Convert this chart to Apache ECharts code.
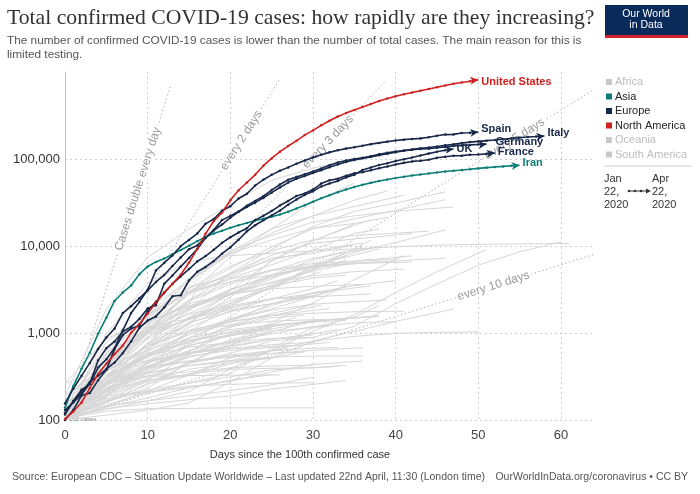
<!DOCTYPE html>
<html>
<head>
<meta charset="utf-8">
<script src="https://cdn.jsdelivr.net/npm/echarts@6/dist/echarts.min.js"></script>
<style>
  html, body { margin: 0; padding: 0; background: #fff; }
  #chart { width: 700px; height: 494px; }
</style>
</head>
<body>
<div id="chart"></div>
<script>
// x axis ticks (days since the 100th confirmed case) and y axis ticks (log)
const xTicks = [0, 10, 20, 30, 40, 50, 60]
const yTicks = [100, 1000, 10000, 100000]

// highlighted countries: cumulative cases, one value per day from day 0
const unitedStates = [103,125,159,233,338,445,572,717,1010,1267,1678,2247,2943,3680,4663,6411,9259,13789,19383,24207,33566,43734,53740,65778,83836,101657,121465,140909,161831,188172,213242,243622,275367,308650,336802,366317,397121,428654,462780,496535,526396,555313,580619,607670,636350,667801,699706,732197,758809,784326,811865]
const spain = [120,165,222,259,400,500,673,1073,1695,2277,3146,5232,6391,7798,9942,11748,13910,17963,20410,25374,28603,35136,39885,49515,57786,65719,73235,80110,87956,95923,104118,112065,119199,126168,131646,136675,141942,148220,153222,158273,163027,166831,170099,172541,177644,184948,190839,191726,198674,200210,204178]
const italy = [155,229,322,453,655,888,1128,1694,2036,2502,3089,3858,4636,5883,7375,9172,10149,12462,15113,17660,21157,24747,27980,31506,35713,41035,47021,53578,59138,63927,69176,74386,80589,86498,92472,97689,101739,105792,110574,115242,119827,124632,128948,132547,135586,139422,143626,147577,152271,156363,159516,162488,165155,168941,172434,175925,178972,181228,183957]
const germany = [130,159,196,262,482,670,799,1040,1176,1457,1908,2078,3675,4585,5795,7272,9257,12327,15320,19848,22213,24873,29056,32986,37323,43938,50871,57695,62095,66885,71808,77872,84794,91159,96092,100123,103374,107663,113296,118181,122171,124908,127854,130072,131359,134753,137698,141397,143342,145184,147065,148291]
const france = [100,130,191,204,285,377,653,949,1126,1209,1784,2281,2876,3661,4469,5423,6633,7652,9043,10871,12612,14282,16018,19856,22304,25233,29155,32964,37575,40174,44550,52128,56989,59105,64338,68605,70478,74390,78167,82048,86334,90276,93790,95403,98076,103573,106206,108847,109252,111821,112606,114657,117324]
const unitedKingdom = [116,164,207,274,322,384,459,590,801,1143,1391,1551,1960,2642,2716,4014,5067,5745,6726,8164,9640,11812,14745,17312,19780,22453,25481,29865,34173,38689,42477,48436,52279,55949,61474,65872,74605,79874,85206,89570,94845,99483,104145,109769,115314,121172,125856,130172]
const iran = [139,245,388,593,978,1501,2336,2922,3513,4747,5823,6566,7161,8042,9000,10075,11364,12729,13938,14991,16169,17361,18407,19644,20610,21638,23049,24811,27017,29406,32332,35408,38309,41495,44605,47593,50468,53183,55743,58226,60500,62589,64586,66220,68192,70029,71686,73303,74877,76389,77995,79494,80868,82211,83505,84802]

// other countries (grey), [day, cases] pairs
const greyEurope = [
  [[0,109],[5,314],[10,886],[15,1795],[20,4937],[25,9134],[30,16770],[35,24983],[40,31119],[46,41889]],
  [[0,128],[5,503],[10,1413],[15,3003],[20,5580],[25,9762],[30,15821],[35,20549],[40,25587],[46,34134]],
  [[0,114],[5,491],[10,1359],[15,4075],[20,8795],[25,13213],[30,18827],[35,22242],[40,25107],[47,28063]],
  [[0,112],[5,448],[10,1600],[15,4268],[20,8251],[25,11730],[30,15987],[35,18091],[39,21379]],
  [[0,104],[5,504],[10,1332],[15,3244],[20,5888],[25,8813],[30,11781],[35,13244],[40,14041],[44,14795]],
  [[0,101],[5,500],[10,1040],[15,1423],[20,2046],[25,3447],[30,5568],[35,8419],[40,10948],[46,15322]],
  [[0,108],[5,598],[10,1090],[15,1877],[20,3084],[25,4665],[30,5865],[35,6314],[40,6740],[46,7241]],
  [[0,129],[5,557],[10,1564],[15,2910],[20,4273],[25,6074],[30,8928],[35,13980],[38,15652]],
  [[0,114],[5,438],[10,1264],[15,2777],[20,7497],[25,15770],[30,32008],[35,52763]],
  [[0,264],[5,864],[10,1337],[15,2046],[20,2860],[25,4369],[30,5819],[35,6691],[42,7711]],
  [[0,123],[5,308],[10,762],[15,1952],[20,3183],[25,4417],[30,5990],[38,9242]],
  [[0,104],[5,425],[10,1051],[15,2311],[20,3627],[25,5205],[30,7202],[38,9856]],
  [[0,116],[5,434],[10,1120],[15,2395],[20,3858],[25,5312],[30,6303],[40,7032]],
  [[0,103],[5,249],[10,659],[15,1476],[20,2200],[25,3630],[30,5318],[34,6890]],
  [[0,140],[5,670],[10,1333],[15,2178],[20,2804],[25,3223],[30,3444],[36,3618]],
  [[0,109],[5,272],[10,450],[15,880],[20,1352],[25,2176],[30,2905],[35,3489],[40,4014]],
  [[0,190],[5,418],[10,624],[15,966],[20,1415],[25,1832],[30,2145],[39,2401]],
  [[0,103],[5,250],[10,568],[15,963],[20,1364],[25,1586],[30,1689],[35,1754],[41,1785]],
  [[0,141],[5,275],[10,414],[15,632],[20,802],[25,977],[30,1188],[35,1304],[40,1353]],
  [[0,105],[5,315],[10,713],[15,1079],[20,1343],[25,1600],[32,1908]],
  [[0,103],[5,226],[10,447],[15,744],[20,1190],[25,1579],[31,2098]],
  [[0,115],[5,258],[10,369],[15,715],[20,961],[25,1185],[30,1373],[38,1552]],
  [[0,113],[5,418],[10,1072],[15,1892],[20,2777],[25,4161],[29,6125]],
  [[0,152],[5,351],[10,1066],[15,2919],[20,4779],[24,7281]],
  [[0,109],[5,298],[10,752],[15,1289],[20,1934],[25,2472],[30,2614]],
  [[0,126],[5,310],[10,579],[15,781],[20,1037],[25,1214],[31,1368]],
  [[0,127],[5,264],[10,422],[15,593],[20,713],[25,846],[30,975],[33,1097]],
  [[0,105],[5,299],[10,581],[15,880],[20,1091],[25,1239],[32,1398]],
  [[0,105],[5,216],[10,400],[15,581],[20,715],[25,1049],[32,1199]],
  [[0,111],[5,221],[10,376],[15,542],[20,630],[25,682],[32,778]],
  [[0,104],[5,186],[10,277],[15,383],[20,446],[25,518],[29,609]],
  [[0,116],[5,230],[10,356],[15,526],[20,662],[25,735],[30,784]],
  [[0,113],[5,334],[10,466],[15,583],[20,659],[25,704],[28,717]],
  [[0,101],[5,144],[10,208],[15,236],[20,279],[25,356],[30,435],[36,476]]
]
const greyAsia = [
  [[0,191],[5,1872],[10,7402],[15,15679],[20,30217],[25,56956],[30,78546],[34,95591]],
  [[0,105],[5,164],[10,254],[15,455],[20,581],[25,814],[30,889],[35,1193],[40,2178],[45,3654],[50,6005],[55,8582],[60,11135]],
  [[0,104],[5,977],[10,3736],[15,6593],[20,7755],[25,8236],[30,8799],[35,9241],[40,9786],[45,10237],[50,10450],[55,10591],[61,10683]],
  [[0,109],[5,250],[10,705],[15,2369],[20,4695],[25,7851],[30,10743],[35,12046],[42,13942]],
  [[0,113],[5,244],[10,657],[15,1251],[20,3082],[25,6725],[30,11487],[35,17265],[37,20080]],
  [[0,103],[5,274],[10,767],[15,1453],[20,2179],[25,3287],[30,5369],[35,9362],[37,11631]],
  [[0,136],[5,495],[10,1063],[15,1865],[20,3157],[25,4601],[30,5988],[36,9749]],
  [[0,106],[10,166],[15,212],[20,385],[25,631],[30,1049],[35,1623],[40,2918],[45,5050],[51,9125]],
  [[0,129],[5,428],[10,1030],[15,2031],[20,2908],[25,3793],[30,4530],[35,5072],[41,5425]],
  [[0,111],[5,380],[10,1075],[15,3018],[20,3870],[25,4648],[30,5660],[38,6599]],
  [[0,117],[5,514],[10,1155],[15,1986],[20,2738],[25,3842],[30,5136],[37,7135]],
  [[0,262],[5,401],[10,481],[15,590],[20,781],[25,1325],[30,2210],[35,4103],[41,7764]],
  [[0,113],[5,198],[10,468],[15,1024],[20,2076],[25,3360],[30,5825],[34,7755]],
  [[0,114],[5,411],[10,1045],[15,1651],[20,2067],[25,2473],[30,2613],[37,2811]],
  [[0,109],[5,189],[10,214],[15,332],[20,476],[25,630],[30,811],[35,1040],[40,1361],[47,1881]],
  [[0,104],[5,176],[10,208],[15,266],[20,342],[25,665],[30,1154],[35,1524],[38,2080]],
  [[0,109],[5,248],[10,412],[15,479],[20,527],[25,582],[30,632],[36,677]],
  [[0,110],[5,164],[10,233],[15,458],[20,772],[25,1031],[30,1378],[38,1574]],
  [[0,113],[5,148],[10,212],[15,245],[20,257],[25,265],[30,268]],
  [[0,111],[5,302],[10,531],[15,781],[20,1232],[25,1676],[30,2135]],
  [[0,104],[5,181],[10,457],[15,604],[20,1165],[25,1490],[29,1604]],
  [[0,115],[5,265],[10,532],[15,833],[20,937],[25,1111],[30,1339],[34,1401]],
  [[0,122],[5,209],[10,400],[15,717],[20,926],[25,1197],[31,1436]],
  [[0,102],[5,146],[10,166],[15,189],[20,218],[25,254],[30,310]],
  [[0,104],[5,126],[10,135],[15,136],[20,138],[25,138],[30,138]],
  [[0,109],[5,210],[10,298],[15,457],[20,727],[25,1266],[28,1508]],
  [[0,123],[5,424],[10,1231],[15,2144],[16,3382]],
  [[0,106],[5,273],[10,484],[15,714],[20,933],[25,1092]],
  [[0,112],[5,259],[10,323],[15,358],[20,397],[25,417],[30,428]],
  [[0,100],[5,169],[10,283],[15,339],[20,382],[25,393],[30,398],[34,425]],
  [[0,100],[10,130],[15,157],[20,273],[25,517],[30,802],[35,915],[40,989],[45,1017],[50,1029]]
]
const greyAmericas = [
  [[0,151],[5,372],[10,1924],[15,3904],[20,8044],[25,14034],[30,22169],[35,33682],[39,43079]],
  [[0,108],[5,424],[10,1470],[15,4018],[20,8527],[25,15756],[30,22148],[35,28364],[41,38422]],
  [[0,117],[5,363],[10,635],[15,1323],[20,2561],[25,6848],[30,11475],[35,17837]],
  [[0,156],[5,632],[10,1610],[15,3031],[20,4815],[25,6927],[30,8807],[36,10832]],
  [[0,111],[5,789],[10,1627],[15,3368],[20,4450],[25,7257],[30,8225],[35,10398]],
  [[0,118],[5,367],[10,848],[15,1510],[20,2785],[25,4661],[30,6875],[34,8772]],
  [[0,112],[5,392],[10,901],[15,1488],[20,2349],[25,3286],[31,5044]],
  [[0,109],[5,443],[10,989],[15,1673],[20,2752],[25,3472],[30,4273],[34,4658]],
  [[0,102],[5,306],[10,608],[15,1161],[20,1780],[25,2473],[30,3233],[33,3977]],
  [[0,128],[5,387],[10,966],[15,1451],[20,1975],[25,2443],[32,3031]],
  [[0,119],[5,233],[10,396],[15,620],[20,986],[25,1137]],
  [[0,113],[5,263],[10,396],[15,467],[20,558],[25,623],[30,669],[33,681]],
  [[0,110],[5,274],[10,350],[15,424],[20,483],[25,528],[30,543],[36,543]],
  [[0,107],[5,157],[10,264],[15,330],[20,520],[24,609]],
  [[0,110],[5,222],[10,343],[15,419],[20,472],[25,510]],
  [[0,107],[5,135],[10,153],[15,171],[20,189],[25,227],[30,256],[34,285]]
]
const greyOther = [
  [[0,107],[5,298],[10,1071],[15,2799],[20,4163],[25,5224],[30,5908],[35,6289],[42,6547]],
  [[0,102],[5,368],[10,708],[15,1039],[20,1239],[25,1366],[30,1422],[34,1445]],
  [[0,116],[5,402],[10,1187],[15,1462],[20,1845],[25,2173],[30,2605],[34,3465]],
  [[0,110],[5,285],[10,576],[15,865],[20,1450],[25,2065],[30,2844],[37,3490]],
  [[0,139],[5,367],[10,716],[15,1320],[20,1761],[25,2160],[31,2811]],
  [[0,115],[5,275],[10,556],[15,1021],[20,1448],[25,1888],[33,3209]],
  [[0,113],[5,306],[10,555],[15,820],[20,1017],[25,1163]],
  [[0,137],[5,195],[10,287],[15,566],[20,834],[25,1042]],
  [[0,114],[5,312],[10,553],[15,685],[20,780],[25,866],[30,884]],
  [[0,101],[5,194],[10,349],[15,574],[20,688],[25,847],[30,952]],
  [[0,111],[5,210],[10,288],[15,323],[20,442],[25,627],[27,665]],
  [[0,114],[5,222],[10,318],[15,448],[20,546],[25,581],[29,609]],
  [[0,102],[5,227],[10,318],[15,324],[20,328],[26,329]],
  [[0,105],[5,162],[10,222],[15,265],[20,314],[25,377],[33,412]],
  [[0,109],[10,180],[15,234],[20,287],[25,332]]
]

// doubling-time guide lines: all start at [0, 100]
const guideNames = ['Cases double every day', 'every 2 days', 'every 3 days', 'every 5 days', 'every 10 days']
const guideEnds = [[12.8, 710000], [26, 830000], [38.8, 790000], [64, 630000], [64, 8000]]

const legendNames = ['Africa', 'Asia', 'Europe', 'North America', 'Oceania', 'South America']

const RED = '#cf1f1f'
const NAVY = '#18284a'
const TEAL = '#0b7e76'
const GREY = '#d6d6d6'
const legendColors = ['#c8c8c8', TEAL, NAVY, RED, '#c8c8c8', '#c8c8c8']
const legendText = ['#bdbdbd', '#222', '#222', '#222', '#bdbdbd', '#bdbdbd']

const chart = echarts.init(document.getElementById('chart'))

function highlighted(name, values, color, offset) {
  const last = values.length - 1
  return {
    name: name,
    type: 'line',
    z: 4,
    data: values.map((v, d) => d === last
      ? { value: [d, v], symbol: 'arrow', symbolSize: [6, 8], symbolRotate: -84 }
      : [d, v]),
    symbol: 'circle',
    symbolSize: 2.5,
    showAllSymbol: true,
    lineStyle: { color: color, width: 1.6 },
    itemStyle: { color: color },
    endLabel: {
      show: true,
      formatter: name,
      color: color,
      fontFamily: 'Liberation Sans',
      fontWeight: 'bold',
      fontSize: 11,
      distance: 3,
      offset: offset
    }
  }
}

const greySeries = [].concat(greyEurope, greyAsia, greyAmericas, greyOther).map(pts => ({
  type: 'line',
  z: 2,
  data: pts,
  showSymbol: false,
  silent: true,
  lineStyle: { color: GREY, width: 1 }
}))

const guideSeries = guideEnds.map(end => ({
  type: 'line',
  z: 1,
  data: [[0, 100], end],
  showSymbol: false,
  silent: true,
  lineStyle: { color: '#b0b0b0', width: 1, type: [1.5, 2.5] }
}))

const option = {
  animation: false,
  grid: { left: 65, top: 72, width: 529, height: 348 },
  xAxis: {
    type: 'value',
    min: xTicks[0],
    max: 64,
    interval: 10,
    axisLine: { show: false },
    axisTick: { show: false },
    axisLabel: {
      fontSize: 13, color: '#444', fontFamily: 'Liberation Sans', margin: 9,
      showMaxLabel: false,
      formatter: v => xTicks.includes(v) ? String(v) : ''
    },
    splitLine: {
      show: true, showMinLine: false, showMaxLine: false,
      lineStyle: { color: '#cfcfcf', type: [2, 3] }
    }
  },
  yAxis: {
    type: 'log',
    logBase: 10,
    min: yTicks[0],
    max: 1000000,
    axisLine: { show: true, lineStyle: { color: '#c4c4c4' } },
    axisTick: { show: false },
    axisLabel: {
      fontSize: 13, color: '#333', fontFamily: 'Liberation Sans', margin: 5,
      showMaxLabel: false,
      formatter: v => yTicks.includes(v) ? v.toLocaleString('en-US') : ''
    },
    splitLine: {
      show: true, showMaxLine: false,
      lineStyle: { color: '#cfcfcf', type: [2, 3] }
    }
  },
  series: [].concat(guideSeries, greySeries, [
    highlighted('Iran', iran, TEAL, [0, -2]),
    highlighted('France', france, NAVY, [0, -1]),
    highlighted('UK', unitedKingdom, NAVY, [0, 0]),
    highlighted('Germany', germany, NAVY, [6, -2]),
    highlighted('Italy', italy, NAVY, [0, -3]),
    highlighted('Spain', spain, NAVY, [0, -3]),
    highlighted('United States', unitedStates, RED, [0, 2])
  ])
}

chart.setOption(option)

// texts, legend and guide labels
const graphics = []
graphics.push({
  type: 'text', left: 7, top: 7,
  style: { text: 'Total confirmed COVID-19 cases: how rapidly are they increasing?', fontFamily: 'Liberation Serif', fontSize: 21.7, fill: '#333' }
})
graphics.push({
  type: 'text', left: 7, top: 34,
  style: { text: 'The number of confirmed COVID-19 cases is lower than the number of total cases. The main reason for this is\nlimited testing.', fontFamily: 'Liberation Sans', fontSize: 11.8, lineHeight: 14, fill: '#555' }
})
// logo
graphics.push({ type: 'rect', shape: { x: 605, y: 5, width: 83, height: 33 }, style: { fill: '#0a2a5a' } })
graphics.push({ type: 'rect', shape: { x: 605, y: 35, width: 83, height: 3 }, style: { fill: '#d4202a' } })
graphics.push({
  type: 'text', x: 646, y: 20,
  style: { text: 'Our World\nin Data', fontFamily: 'Liberation Sans', fontSize: 10.5, lineHeight: 11, fill: '#fff', align: 'center', verticalAlign: 'middle' }
})
// legend
legendNames.forEach((name, i) => {
  const y = 82 + i * 14.5
  graphics.push({ type: 'rect', shape: { x: 606, y: y - 3, width: 6, height: 6 }, style: { fill: legendColors[i] } })
  graphics.push({
    type: 'text', x: 615, y: y,
    style: { text: name, fontFamily: 'Liberation Sans', fontSize: 11, fill: legendText[i], verticalAlign: 'middle' }
  })
})
graphics.push({ type: 'line', shape: { x1: 604, y1: 166, x2: 692, y2: 166 }, style: { stroke: '#ccc', lineWidth: 1 } })
graphics.push({
  type: 'text', x: 604, y: 172,
  style: { text: 'Jan\n22,\n2020', fontFamily: 'Liberation Sans', fontSize: 11, lineHeight: 13, fill: '#333' }
})
graphics.push({
  type: 'text', x: 652, y: 172,
  style: { text: 'Apr\n22,\n2020', fontFamily: 'Liberation Sans', fontSize: 11, lineHeight: 13, fill: '#333' }
})
graphics.push({ type: 'line', shape: { x1: 628, y1: 191, x2: 648, y2: 191 }, style: { stroke: '#333', lineWidth: 1 } })
;[629, 635, 641].forEach(x => graphics.push({ type: 'circle', shape: { cx: x, cy: 191, r: 1.3 }, style: { fill: '#333' } }))
graphics.push({ type: 'polygon', shape: { points: [[651, 191], [646, 188.5], [646, 193.5]] }, style: { fill: '#333' } })

// axis title and source
graphics.push({
  type: 'text', x: 300, y: 455,
  style: { text: 'Days since the 100th confirmed case', fontFamily: 'Liberation Sans', fontSize: 11, fill: '#333', align: 'center', verticalAlign: 'middle' }
})
graphics.push({
  type: 'text', x: 12, y: 477,
  style: { text: 'Source: European CDC – Situation Update Worldwide – Last updated 22nd April, 11:30 (London time)', fontFamily: 'Liberation Sans', fontSize: 10.5, fill: '#555', verticalAlign: 'middle' }
})
graphics.push({
  type: 'text', x: 688, y: 477,
  style: { text: 'OurWorldInData.org/coronavirus • CC BY', fontFamily: 'Liberation Sans', fontSize: 10.5, fill: '#555', align: 'right', verticalAlign: 'middle' }
})

// "100 cases" marker
const origin = chart.convertToPixel({ gridIndex: 0 }, [0, 100])
graphics.push({
  type: 'text', x: origin[0] + 4, y: origin[1] - 1,
  style: { text: '100 cases', fontFamily: 'Liberation Sans', fontSize: 6, fill: '#888', verticalAlign: 'middle' }
})

// guide labels, centred on their lines
const labelAt = [0.69, 0.82, 0.82, 0.85, 0.81]
guideEnds.forEach((end, i) => {
  const p1 = chart.convertToPixel({ gridIndex: 0 }, end)
  const t = labelAt[i]
  const cx = origin[0] + t * (p1[0] - origin[0])
  const cy = origin[1] + t * (p1[1] - origin[1])
  const angle = Math.atan2(origin[1] - p1[1], p1[0] - origin[0])
  graphics.push({
    type: 'text', x: cx, y: cy, rotation: angle, z: 1, z2: 100,
    style: {
      text: guideNames[i], fontFamily: 'Liberation Sans', fontSize: 12, fill: '#9a9a9a',
      align: 'center', verticalAlign: 'middle', backgroundColor: '#fff', padding: [0, 2]
    }
  })
})

chart.setOption({ graphic: { elements: graphics } })
</script>
</body>
</html>
